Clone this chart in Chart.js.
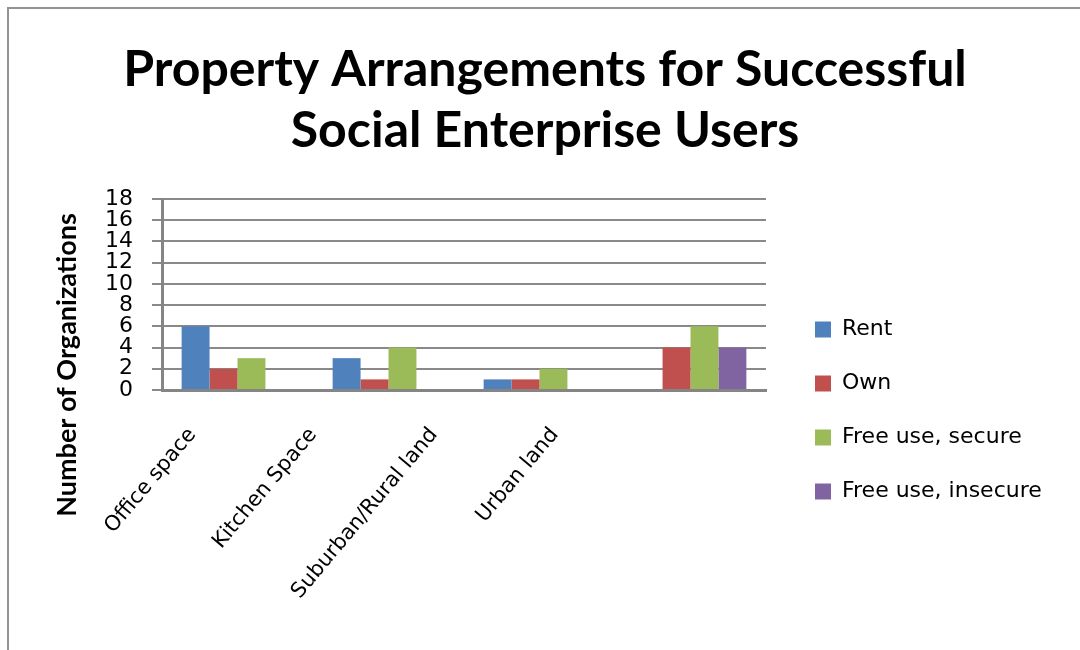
<!DOCTYPE html>
<html>
<head>
<meta charset="utf-8">
<script src="https://cdn.jsdelivr.net/npm/chart.js@4.4.1/dist/chart.umd.min.js"></script>
<style>
  html, body { margin: 0; padding: 0; background: #fff; }
  #wrap { position: relative; width: 1080px; height: 650px; overflow: hidden; }
  #frame { position: absolute; left: 7px; top: 7px; width: 1200px; height: 800px;
           border-left: 2px solid #939393; border-top: 2px solid #939393; }
  canvas { position: absolute; left: 0; top: 0; }
</style>
</head>
<body>
<div id="wrap">
  <div id="frame"></div>
  <canvas id="propertyChart" width="1080" height="650"></canvas>
</div>
<script>
// property arrangement counts per space type
const categories = ['Office space', 'Kitchen Space', 'Suburban/Rural land', 'Urban land'];
const seriesNames = ['Rent', 'Own', 'Free use, secure', 'Free use, insecure'];
const rent = [6, 3, 1, 0];
const own = [2, 1, 1, 4];
const freeSecure = [3, 4, 2, 6];
const freeInsecure = [0, 0, 0, 4];
const yMin = 0;
const yMax = 18;
const yStep = 2;

const colors = ['#4F81BD', '#C0504D', '#9BBB59', '#8064A2'];

// rotated axis title, placed lower than the plot centre
const yTitlePlugin = {
    id: 'yTitle',
    afterDraw(chart) {
        const ctx = chart.ctx;
        ctx.save();
        ctx.translate(67, 365);
        ctx.rotate(-Math.PI / 2);
        ctx.font = 'bold 27px Lato';
        ctx.fillStyle = '#000';
        ctx.textAlign = 'center';
        ctx.textBaseline = 'middle';
        ctx.fillText('Number of Organizations', 0, 0);
        ctx.restore();
    }
};

// move the legend off the plot and down a bit; let it run to the canvas edge
const legendShift = {
    id: 'legendShift',
    afterLayout(chart) {
        const lg = chart.legend;
        lg.left += 17;
        lg.right = chart.width;
        lg.top += 96;
        lg.bottom += 96;
    }
};

const ctx = document.getElementById('propertyChart').getContext('2d');
new Chart(ctx, {
    type: 'bar',
    data: {
        labels: categories,
        datasets: [rent, own, freeSecure, freeInsecure].map((d, i) => ({
            label: seriesNames[i],
            data: d,
            backgroundColor: colors[i],
            borderWidth: 0
        }))
    },
    options: {
        responsive: false,
        animation: false,
        devicePixelRatio: 1,
        layout: { padding: { top: 10, left: 103, right: 93, bottom: 31 } },
        categoryPercentage: 0.74,
        barPercentage: 1,
        plugins: {
            title: {
                display: true,
                text: ['Property Arrangements for Successful', 'Social Enterprise Users'],
                color: '#000',
                font: { family: 'Lato', weight: 'bold', size: 50, lineHeight: 1.22 },
                padding: { top: 29, bottom: 38 }
            },
            legend: {
                position: 'right',
                fullSize: true,
                labels: {
                    boxWidth: 16,
                    boxHeight: 16,
                    padding: 32,
                    color: '#000',
                    font: { family: 'DejaVu Sans', size: 22 }
                }
            },
            tooltip: { enabled: false }
        },
        scales: {
            x: {
                grid: { display: false, drawTicks: false },
                border: { display: true, color: '#858585', width: 3 },
                ticks: { display: false },
                afterFit(scale) { scale.height = 0; }
            },
            // category names sit on their own axis, spaced a bit tighter than the bars
            xNames: {
                type: 'category',
                labels: [...categories, ''],
                offset: true,
                position: 'bottom',
                grid: { display: false, drawTicks: false },
                border: { display: false },
                ticks: {
                    autoSkip: false,
                    minRotation: 50,
                    maxRotation: 50,
                    padding: 33,
                    labelOffset: -30,
                    color: '#000',
                    font: { family: 'DejaVu Sans', size: 21 }
                },
                afterFit(scale) { scale.height = 229; }
            },
            y: {
                min: yMin,
                max: yMax,
                grid: { color: '#898989', lineWidth: 2, tickLength: 10 },
                border: { display: true, color: '#858585', width: 3 },
                ticks: {
                    stepSize: yStep,
                    autoSkip: false,
                    padding: 19,
                    color: '#000',
                    font: { family: 'DejaVu Sans', size: 22 }
                },
                afterFit(scale) { scale.width = 59; }
            }
        }
    },
    plugins: [yTitlePlugin, legendShift]
});
</script>
</body>
</html>
